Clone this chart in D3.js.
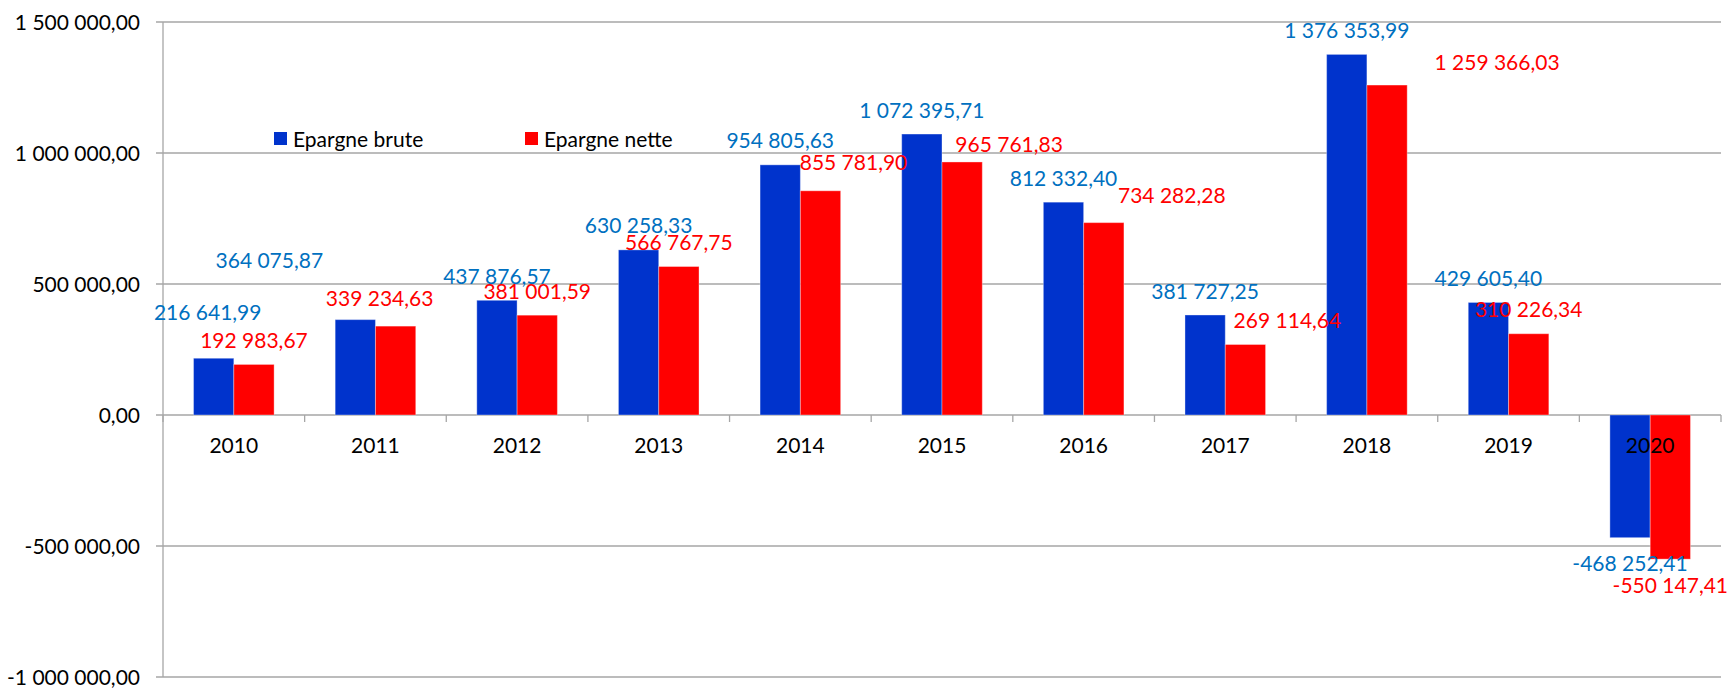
<!DOCTYPE html>
<html>
<head>
<meta charset="utf-8">
<script src="https://cdn.jsdelivr.net/npm/d3@7"></script>
<style>
  html, body { margin: 0; padding: 0; background: #fff; }
  text { font-family: Lato, "Open Sans", sans-serif; }
</style>
</head>
<body>
<div class="chart-container"></div>
<script>
var width = 1731, height = 689;

// data
var years = ["2010", "2011", "2012", "2013", "2014", "2015", "2016", "2017", "2018", "2019", "2020"];
var seriesNames = ["Epargne brute", "Epargne nette"];
var epargneBrute = [216641.99, 364075.87, 437876.57, 630258.33, 954805.63, 1072395.71, 812332.40, 381727.25, 1376353.99, 429605.40, -468252.41];
var epargneNette = [192983.67, 339234.63, 381001.59, 566767.75, 855781.90, 965761.83, 734282.28, 269114.64, 1259366.03, 310226.34, -550147.41];
var yTicks = [-1000000, -500000, 0, 500000, 1000000, 1500000];

// manual nudges of the data labels (px), like the moved labels in the sheet
var bruteLabelShift = [[-6, -22], [-86, -35], [0, 0], [0, 0], [0, 0], [0, 0], [0, 0], [0, 0], [0, 0], [0, 0], [0, 0]];
var netteLabelShift = [[0, 0], [-16, -4], [0, 0], [0, 0], [33, -4], [47, 6], [68, -3], [42, 0], [110, 1], [0, 0], [0, 0]];

var colors = ["#0033cc", "#ff0000"];
var labelColors = ["#0070c0", "#ff0000"];
var gridColor = "#a6a6a6";

var fr = d3.formatLocale({decimal: ",", thousands: " ", grouping: [3], currency: ["", " €"], minus: "-"});
var fmt = fr.format(",.2f");

var margin = {top: 22, right: 10, bottom: 12, left: 163};

var svg = d3.select(".chart-container").append("svg")
  .attr("width", width).attr("height", height);

var x0 = d3.scaleBand().domain(years)
  .range([margin.left, width - margin.right])
  .paddingInner(0.431).paddingOuter(0.2155);
var x1 = d3.scaleBand().domain(seriesNames).range([0, x0.bandwidth()]);
var y = d3.scaleLinear().domain([-1000000, 1500000]).range([height - margin.bottom, margin.top]);

var rows = years.map(function(yr, i) {
  return {year: yr, values: [
    {name: seriesNames[0], v: epargneBrute[i], shift: bruteLabelShift[i], k: 0},
    {name: seriesNames[1], v: epargneNette[i], shift: netteLabelShift[i], k: 1}
  ]};
});

// gridlines
svg.append("g").attr("class", "grid")
  .selectAll("line").data(yTicks).enter().append("line")
  .attr("x1", margin.left - 7).attr("x2", width - margin.right)
  .attr("y1", function(d) { return y(d); }).attr("y2", function(d) { return y(d); })
  .style("stroke", gridColor).style("stroke-width", 1.3);

// y axis line
svg.append("line")
  .attr("x1", margin.left).attr("x2", margin.left)
  .attr("y1", y(1500000)).attr("y2", y(-1000000))
  .style("stroke", gridColor).style("stroke-width", 1.3);

// y labels
svg.append("g").selectAll("text").data(yTicks).enter().append("text")
  .attr("x", margin.left - 23)
  .attr("y", function(d) { return y(d); })
  .attr("dy", "0.36em")
  .attr("text-anchor", "end")
  .style("font-size", "21px").style("fill", "#000")
  .text(function(d) { return fmt(d); });

// bars
var groups = svg.append("g").attr("class", "bars")
  .selectAll("g").data(rows).enter().append("g")
  .attr("transform", function(d) { return "translate(" + x0(d.year) + ",0)"; });

groups.selectAll("rect").data(function(d) { return d.values; }).enter().append("rect")
  .attr("x", function(d) { return x1(d.name); })
  .attr("width", x1.bandwidth())
  .attr("y", function(d) { return y(Math.max(0, d.v)); })
  .attr("height", function(d) { return Math.abs(y(d.v) - y(0)); })
  .style("fill", function(d) { return colors[d.k]; })
  .style("stroke", "rgba(255,255,255,0.35)")
  .style("stroke-width", 1);

// x axis ticks at category boundaries
var bounds = years.map(function(yr) { return x0(yr) - x0.step() * x0.paddingOuter(); });
bounds.push(width - margin.right);
svg.append("g").selectAll("line").data(bounds).enter().append("line")
  .attr("x1", function(d) { return d; }).attr("x2", function(d) { return d; })
  .attr("y1", y(0)).attr("y2", y(0) + 7)
  .style("stroke", gridColor).style("stroke-width", 1.3);

// x labels
svg.append("g").selectAll("text").data(years).enter().append("text")
  .attr("x", function(d) { return x0(d) + x0.bandwidth() / 2; })
  .attr("y", y(0) + 30)
  .attr("dy", "0.36em")
  .attr("text-anchor", "middle")
  .style("font-size", "21px").style("fill", "#000")
  .text(function(d) { return d; });

// data labels, in their own layer above every bar
var labelGroups = svg.append("g").attr("class", "labels")
  .selectAll("g").data(rows).enter().append("g")
  .attr("transform", function(d) { return "translate(" + x0(d.year) + ",0)"; });

labelGroups.selectAll("text").data(function(d) { return d.values; }).enter().append("text")
  .attr("x", function(d) { return x1(d.name) + x1.bandwidth() / 2 + d.shift[0]; })
  .attr("y", function(d) { return (d.v >= 0 ? y(d.v) - 24 : y(d.v) + 26) + d.shift[1]; })
  .attr("dy", "0.36em")
  .attr("text-anchor", "middle")
  .style("font-size", "21px")
  .style("fill", function(d) { return labelColors[d.k]; })
  .text(function(d) { return fmt(d.v); });

// legend
var legendX = [274, 525];
var legend = svg.append("g").attr("class", "legend")
  .selectAll("g").data(seriesNames).enter().append("g")
  .attr("transform", function(d, i) { return "translate(" + legendX[i] + ",132)"; });
legend.append("rect").attr("width", 13).attr("height", 13)
  .style("fill", function(d, i) { return colors[i]; });
legend.append("text").attr("x", 19).attr("y", 7).attr("dy", "0.36em")
  .style("font-size", "21px").style("fill", "#000")
  .text(function(d) { return d; });
</script>
</body>
</html>
